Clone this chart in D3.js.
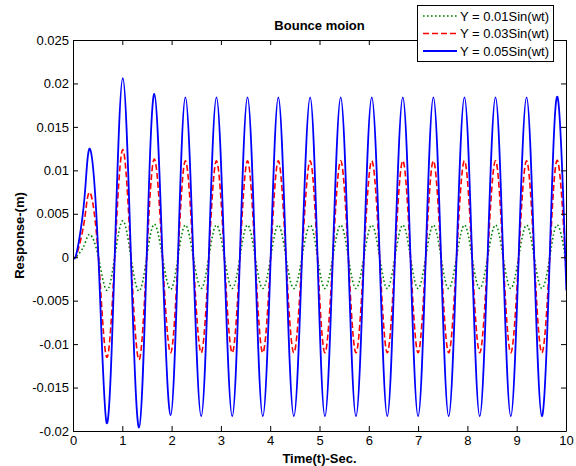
<!DOCTYPE html>
<html><head><meta charset="utf-8">
<script src="https://cdn.jsdelivr.net/npm/d3@7"></script>
<style>body{margin:0;background:#fff}svg{display:block}</style>
</head><body>
<svg id="c" width="576" height="466"></svg>
<script>
// ---- data ----
const xTicks = [0,1,2,3,4,5,6,7,8,9,10];
const yTicks = [-0.02,-0.015,-0.01,-0.005,0,0.005,0.01,0.015,0.02,0.025];
const yTickLabels = ["-0.02","-0.015","-0.01","-0.005","0","0.005","0.01","0.015","0.02","0.025"];
const seriesNames = ["Y = 0.01Sin(wt)","Y = 0.03Sin(wt)","Y = 0.05Sin(wt)"];

// start-up segment
const startTimes = [0, 0.06, 0.16, 0.25];
const greenStart = [0, 0.00005, 0.0007, 0.0017];
const redStart   = [0, 0.0001, 0.0021, 0.0050];
const blueStart  = [0, 0.0002, 0.0033, 0.0080];

// times of the peaks and troughs (alternating, peak first)
const extremaTimes = [0.35,0.683,1.01,1.34,1.65,1.98,2.28,2.60,2.91,3.23,3.54,3.85,4.165,4.48,4.81,5.11,5.43,5.74,6.06,6.375,6.69,7.0,7.31,7.62,7.94,8.25,8.57,8.88,9.20,9.51,9.83];
// zero crossings following each extremum
const crossTimes = [0.516,0.846,1.175,1.495,1.815,2.13,2.44,2.755,3.07,3.385,3.695,4.01,4.32,4.645,4.96,5.27,5.585,5.90,6.22,6.53,6.845,7.155,7.465,7.78,8.095,8.41,8.725,9.04,9.355,9.67,9.985];

const greenExtrema = [0.0026,-0.0038,0.0042,-0.0039,0.0038,-0.0037,0.0037,-0.0036,0.0037,-0.0036,0.0037,-0.0036,0.0037,-0.0036,0.0037,-0.0036,0.0037,-0.0036,0.0037,-0.0036,0.0037,-0.0036,0.0037,-0.0036,0.0037,-0.0036,0.0037,-0.0036,0.0037,-0.0036,0.0037];
const redExtrema = [0.0074,-0.0115,0.0124,-0.0118,0.0113,-0.0110,0.0111,-0.0110,0.0111,-0.0110,0.0111,-0.0110,0.0111,-0.0110,0.0111,-0.0110,0.0111,-0.0110,0.0111,-0.0110,0.0111,-0.0110,0.0111,-0.0110,0.0111,-0.0110,0.0111,-0.0110,0.0111,-0.0110,0.0111];
const blueExtrema = [0.0124,-0.0191,0.0206,-0.0196,0.0188,-0.0182,0.0184,-0.0183,0.0184,-0.0183,0.0184,-0.0183,0.0184,-0.0183,0.0184,-0.0183,0.0184,-0.0183,0.0184,-0.0183,0.0184,-0.0183,0.0184,-0.0183,0.0184,-0.0183,0.0184,-0.0183,0.0184,-0.0183,0.0184];

const endTime = 10;
const greenEnd = -0.0005, redEnd = -0.0014, blueEnd = -0.0024;

function buildPoints(startVals, extVals, endVal){
  const pts = startTimes.map((t,i)=>[t,startVals[i]]);
  extremaTimes.forEach((t,i)=>{
    pts.push([t, extVals[i]]);
    pts.push([crossTimes[i], 0]);
  });
  pts.push([endTime, endVal]);
  return pts;
}

const series = [
  {name:seriesNames[0], color:"#008000", dash:"1.6,2.4", width:1.6, pts:buildPoints(greenStart, greenExtrema, greenEnd)},
  {name:seriesNames[1], color:"#ff0000", dash:"6,3", width:1.6, pts:buildPoints(redStart, redExtrema, redEnd)},
  {name:seriesNames[2], color:"#0000ff", dash:null, width:1.8, pts:buildPoints(blueStart, blueExtrema, blueEnd)}
];

// ---- layout ----
const svg = d3.select("#c");
const L=73, R=566, T=40, B=431;
const x = d3.scaleLinear().domain([0,10]).range([L,R]);
const y = d3.scaleLinear().domain([-0.02,0.025]).range([B,T]);
const font = "Arial, 'Liberation Sans', sans-serif";

svg.append("clipPath").attr("id","clp").append("rect")
  .attr("x",L).attr("y",T).attr("width",R-L).attr("height",B-T);

const line = d3.line().x(d=>x(d[0])).y(d=>y(d[1])).curve(d3.curveNatural);
const g = svg.append("g").attr("clip-path","url(#clp)");
series.forEach(s=>{
  g.append("path").attr("d",line(s.pts)).attr("fill","none")
    .attr("stroke",s.color).attr("stroke-width",s.width)
    .attr("stroke-dasharray",s.dash).attr("stroke-linejoin","round");
});

// axes (MATLAB style inward ticks on all sides)
const tl = 5;
const axB = svg.append("g").attr("transform",`translate(0,${B})`)
  .call(d3.axisBottom(x).tickValues(xTicks).tickSizeInner(-tl).tickSizeOuter(0).tickPadding(5).tickFormat(d3.format("d")));
const axT = svg.append("g").attr("transform",`translate(0,${T})`)
  .call(d3.axisTop(x).tickValues(xTicks).tickSizeInner(-tl).tickSizeOuter(0).tickFormat(""));
const axL = svg.append("g").attr("transform",`translate(${L},0)`)
  .call(d3.axisLeft(y).tickValues(yTicks).tickSizeInner(-tl).tickSizeOuter(0).tickPadding(4).tickFormat((d,i)=>yTickLabels[i]));
const axR = svg.append("g").attr("transform",`translate(${R},0)`)
  .call(d3.axisRight(y).tickValues(yTicks).tickSizeInner(-tl).tickSizeOuter(0).tickFormat(""));
[axB,axT,axL,axR].forEach(a=>{
  a.selectAll("path,line").attr("stroke","#000").attr("stroke-width",1);
  a.selectAll("text").attr("font-family",font).attr("font-size",13).attr("fill","#000");
});

// titles
svg.append("text").attr("x",(L+R)/2).attr("y",30).attr("text-anchor","middle")
  .attr("font-family",font).attr("font-weight","bold").attr("font-size",13).text("Bounce moion");
svg.append("text").attr("x",(L+R)/2).attr("y",463).attr("text-anchor","middle")
  .attr("font-family",font).attr("font-weight","bold").attr("font-size",13).text("Time(t)-Sec.");
svg.append("text").attr("transform",`translate(24,${(T+B)/2}) rotate(-90)`).attr("text-anchor","middle")
  .attr("font-family",font).attr("font-weight","bold").attr("font-size",13).text("Response-(m)");

// legend
const lg = svg.append("g");
lg.append("rect").attr("x",417.5).attr("y",5.5).attr("width",136).attr("height",56)
  .attr("fill","#fff").attr("stroke","#000").attr("stroke-width",1);
series.forEach((s,i)=>{
  const yy = 16 + i*17.5;
  lg.append("line").attr("x1",423).attr("x2",457).attr("y1",yy).attr("y2",yy)
    .attr("stroke",s.color).attr("stroke-width",s.width).attr("stroke-dasharray",s.dash);
  lg.append("text").attr("x",460).attr("y",yy).attr("dy","0.36em")
    .attr("font-family",font).attr("font-size",13).text(s.name);
});
</script>
</body></html>
